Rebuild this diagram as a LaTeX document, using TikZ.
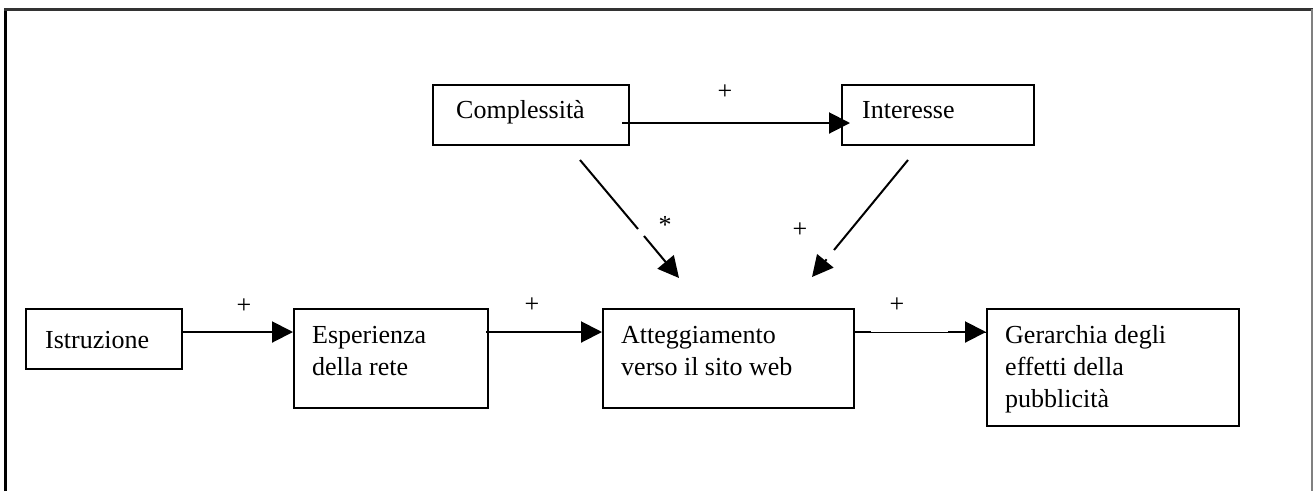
\documentclass[tikz,border=0pt]{standalone}
\usepackage{fontspec}
\setmainfont{Liberation Serif}
\usetikzlibrary{arrows.meta}
\begin{document}
\begin{tikzpicture}[x=1pt,y=-1pt,
  box/.style={draw, line width=2pt, rectangle, inner sep=0pt, anchor=north west},
  lbl/.style={anchor=base west, align=left, inner sep=0pt, font=\fontsize{26}{32}\selectfont},
  sign/.style={inner sep=0pt, font=\fontsize{26}{32}\selectfont},
  conn/.style={line width=2pt},
  thinconn/.style={line width=1pt},
  arr/.style={line width=2pt, -{Triangle[length=21pt,width=21pt]}},
]
\useasboundingbox (0,0) rectangle (1313,491);

% outer frame (open at the bottom)
\draw[line width=3pt] (5,491) -- (5,9);
\draw[line width=3pt, black!80] (4,9) -- (1313,9);
\draw[line width=1.5pt, black!50] (1312,9) -- (1312,491);

% boxes
\node[box, minimum width=196pt, minimum height=60pt] (comp) at (432,84) {};
\node[box, minimum width=192pt, minimum height=60pt] (inte) at (841,84) {};
\node[box, minimum width=156pt, minimum height=60pt] (istr) at (25,308) {};
\node[box, minimum width=194pt, minimum height=99pt] (espe) at (293,308) {};
\node[box, minimum width=251pt, minimum height=99pt] (atte) at (602,308) {};
\node[box, minimum width=252pt, minimum height=117pt] (gera) at (986,308) {};

% box texts (placed by the baseline of their last line)
\node[lbl] (comp-t) at (456,118) {Complessità};
\node[lbl] (inte-t) at (862,118) {Interesse};
\node[lbl] (istr-t) at (45,348) {Istruzione};
\node[lbl] (espe-t) at (312,375) {Esperienza\\della rete};
\node[lbl] (atte-t) at (621,375) {Atteggiamento\\verso il sito web};
\node[lbl] (gera-t) at (1005,407) {Gerarchia degli\\effetti della\\pubblicità};

% levels of the horizontal connectors
\coordinate (toprow) at (0,123);
\coordinate (botrow) at (0,332);

% top connector
\draw[arr] ([xshift=-8pt]comp.east |- toprow) -- ([xshift=9pt]inte.west |- toprow);

% bottom row connectors
\draw[arr] ([xshift=-2pt]istr.east |- botrow) -- (espe.west |- botrow);
\draw[arr] ([xshift=-3pt]espe.east |- botrow) -- (atte.west |- botrow);
\draw[thinconn] (atte.east |- botrow) -- (gera.west |- botrow);
\draw[conn] ([xshift=-2pt]atte.east |- botrow) -- ([xshift=16pt]atte.east |- botrow);
\draw[arr] ([xshift=-38pt]gera.west |- botrow) -- (gera.west |- botrow);

% diagonal connectors towards the attitude box
\coordinate (d1s) at (580,160);
\coordinate (d1a) at (638,229);
\coordinate (d1b) at (644,236);
\coordinate (d1t) at (679,278);
\draw[conn] (d1s) -- (d1a);
\draw[arr] (d1b) -- (d1t);

\coordinate (d2s) at (908,160);
\coordinate (d2a) at (834,250);
\coordinate (d2b) at (826.6,259.3);
\coordinate (d2t) at (812,277);
\draw[conn] (d2s) -- (d2a);
\draw[arr] (d2b) -- (d2t);

% signs on the connectors
\node[sign] (s1) at (725,92) {+};
\node[sign] (s2) at (665,225) {*};
\node[sign] (s3) at (800,230) {+};
\node[sign] (s4) at (244,306) {+};
\node[sign] (s5) at (532,305) {+};
\node[sign] (s6) at (897,305) {+};
\end{tikzpicture}
\end{document}
